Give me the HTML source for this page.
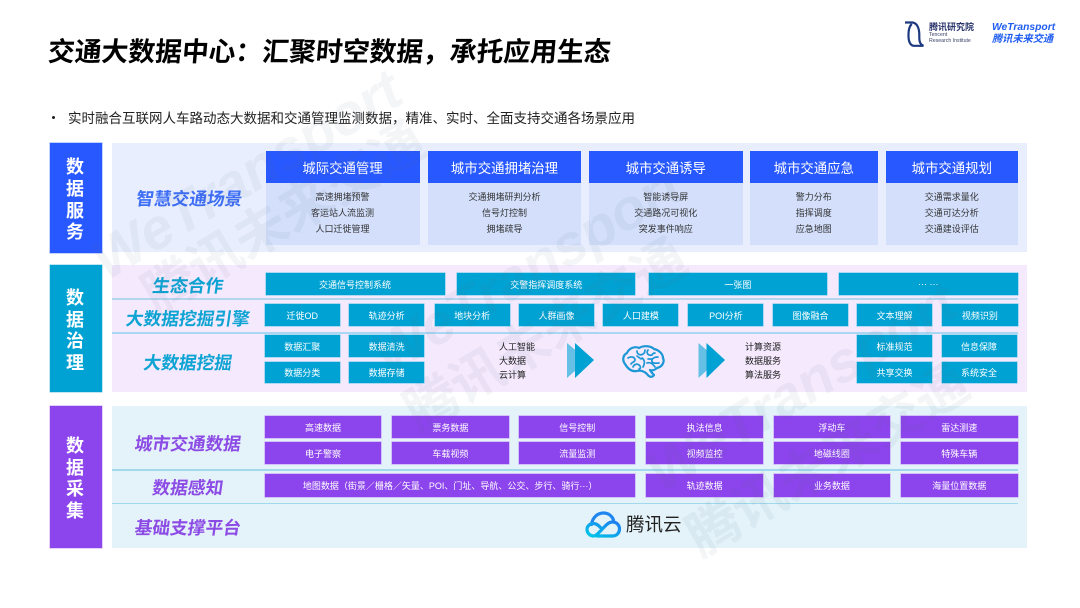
<!DOCTYPE html>
<html lang="zh"><head><meta charset="utf-8"><style>
html,body{margin:0;padding:0;background:#fff}
#p{position:relative;width:1080px;height:608px;overflow:hidden;background:#fff;font-family:"Liberation Sans","Noto Sans CJK SC",sans-serif}
#p div{position:absolute;box-sizing:border-box}
.c{display:flex;align-items:center;justify-content:center;white-space:nowrap;text-align:center}
.l{display:flex;align-items:center;justify-content:center;white-space:nowrap;font-weight:700;font-size:17.700px;transform:skewX(-8deg);height:24px}
.s{width:52px;color:#fff;font-weight:700;font-size:18px;height:24px;left:49px;display:flex;justify-content:center;align-items:center}
.b{color:#fff;font-size:9px}
.t{background:#00a2d3;box-shadow:0 0 0 .6px #7fcdea}
.v{background:#8c44ec;box-shadow:0 0 0 .6px #c9a2f6}
.h{background:#2858ff;color:#fff;font-size:13.400px;top:151px;height:32px}
.k{background:#d3dffb;top:183px;height:62px;color:#333;font-size:9px;line-height:16px;text-align:center;padding-top:5.500px}
.x{font-size:9px;line-height:14px;color:#222;white-space:nowrap}
.w{white-space:nowrap;color:rgba(95,100,135,.065);font-weight:700;height:60px;line-height:60px;transform:rotate(-31deg);transform-origin:0 50%}
.we{font-size:57px;font-style:italic}
.cn{font-size:53px}
</style></head><body><div id="p">

<div style="left:48px;top:36px;font-size:26.800px;line-height:32px;font-weight:700;color:#000;white-space:nowrap;transform:skewX(-5deg)">交通大数据中心&#xFF1A;汇聚时空数据&#xFF0C;承托应用生态</div>

<svg style="position:absolute;left:904px;top:21px" width="22" height="27" viewBox="0 0 22 27"><path d="M1 1.500H8.500C13 2 15.500 7 15.300 15C15.200 20 15.800 23.500 19.500 24.800H9.500C5.500 24 4.300 19 4.500 13C4.600 9 5.500 5 7.800 3" fill="none" stroke="#1d3a80" stroke-width="2.200"/></svg>
<div style="left:929px;top:21px;font-size:9px;line-height:12px;font-weight:700;color:#27336a;white-space:nowrap">腾讯研究院</div>
<div style="left:929px;top:33px;font-size:5.200px;line-height:5.600px;color:#3a4468;white-space:nowrap">Tencent<br>Research Institute</div>
<div style="left:992px;top:21px;font-size:10.300px;line-height:13px;font-weight:700;font-style:italic;color:#1f5cf0;white-space:nowrap">WeTransport</div>
<div style="left:992px;top:33px;font-size:10.200px;line-height:13px;font-weight:700;font-style:italic;color:#1f5cf0;white-space:nowrap">腾讯未来交通</div>

<div style="left:52px;top:116px;width:3px;height:3px;border-radius:50%;background:#222"></div>
<div style="left:68px;top:109px;font-size:13.500px;line-height:19px;color:#222;white-space:nowrap">实时融合互联网人车路动态大数据和交通管理监测数据&#xFF0C;精准、实时、全面支持交通各场景应用</div>

<!-- 数据服务 -->
<div style="left:49.500px;top:142.500px;width:52px;height:110px;background:#2858ff;box-shadow:0 0 0 .7px #a9bdfd"></div>
<div class="s" style="top:154px">数</div><div class="s" style="top:176px">据</div><div class="s" style="top:198px">服</div><div class="s" style="top:219px">务</div>
<div style="left:112px;top:143px;width:915px;height:109px;background:#e8eefd"></div>
<div class="l" style="left:112px;width:155px;top:186px;color:#3d6ef5">智慧交通场景</div>

<div class="k" style="left:265.500px;width:154px">高速拥堵预警<br>客运站人流监测<br>人口迁徙管理</div>
<div class="h c" style="left:265.500px;width:154px">城际交通管理</div>
<div class="k" style="left:427.700px;width:153.600px">交通拥堵研判分析<br>信号灯控制<br>拥堵疏导</div>
<div class="h c" style="left:427.700px;width:153.600px">城市交通拥堵治理</div>
<div class="k" style="left:589px;width:153.500px">智能诱导屏<br>交通路况可视化<br>突发事件响应</div>
<div class="h c" style="left:589px;width:153.500px">城市交通诱导</div>
<div class="k" style="left:750px;width:127.500px">警力分布<br>指挥调度<br>应急地图</div>
<div class="h c" style="left:750px;width:127.500px">城市交通应急</div>
<div class="k" style="left:886px;width:131.600px">交通需求量化<br>交通可达分析<br>交通建设评估</div>
<div class="h c" style="left:886px;width:131.600px">城市交通规划</div>

<!-- 数据治理 -->
<div style="left:49.500px;top:265px;width:52px;height:127px;background:#00a2d3;box-shadow:0 0 0 .7px #a5dcf0"></div>
<div class="s" style="top:285px">数</div><div class="s" style="top:307px">据</div><div class="s" style="top:328px">治</div><div class="s" style="top:350px">理</div>
<div style="left:112px;top:265px;width:915px;height:127px;background:#f5e9fd"></div>
<div style="left:112px;top:298px;width:905.500px;height:1.500px;background:#b3d6f0"></div>
<div style="left:112px;top:332px;width:905.500px;height:1.500px;background:#a9d6f0"></div>
<div class="l" style="left:112px;width:152px;top:273px;color:#0da3d3">生态合作</div>
<div class="l" style="left:112px;width:152px;top:306px;color:#0da3d3">大数据挖掘引擎</div>
<div class="l" style="left:112px;width:152px;top:350px;color:#0da3d3">大数据挖掘</div>

<div class="c b t" style="left:265.500px;top:273px;width:179px;height:22px">交通信号控制系统</div>
<div class="c b t" style="left:457px;top:273px;width:178.400px;height:22px">交警指挥调度系统</div>
<div class="c b t" style="left:649px;top:273px;width:177.800px;height:22px">一张图</div>
<div class="c b t" style="left:839px;top:273px;width:178.600px;height:22px">··· ···</div>

<div class="c b t" style="left:264.800px;top:304px;width:75px;height:22px">迁徙OD</div>
<div class="c b t" style="left:349.200px;top:304px;width:75px;height:22px">轨迹分析</div>
<div class="c b t" style="left:434.600px;top:304px;width:75px;height:22px">地块分析</div>
<div class="c b t" style="left:519px;top:304px;width:75px;height:22px">人群画像</div>
<div class="c b t" style="left:603.400px;top:304px;width:75px;height:22px">人口建模</div>
<div class="c b t" style="left:688.400px;top:304px;width:75px;height:22px">POI分析</div>
<div class="c b t" style="left:773px;top:304px;width:75px;height:22px">图像融合</div>
<div class="c b t" style="left:856.800px;top:304px;width:75.400px;height:22px">文本理解</div>
<div class="c b t" style="left:942.200px;top:304px;width:75.400px;height:22px">视频识别</div>

<div class="c b t" style="left:264.800px;top:335.300px;width:75px;height:21.700px">数据汇聚</div>
<div class="c b t" style="left:349.200px;top:335.300px;width:75px;height:21.700px">数据清洗</div>
<div class="c b t" style="left:264.800px;top:361.700px;width:75px;height:21.700px">数据分类</div>
<div class="c b t" style="left:349.200px;top:361.700px;width:75px;height:21.700px">数据存储</div>
<div class="c b t" style="left:856.800px;top:335.300px;width:75.400px;height:21.700px">标准规范</div>
<div class="c b t" style="left:941.500px;top:335.300px;width:75.100px;height:21.700px">信息保障</div>
<div class="c b t" style="left:856.800px;top:361.700px;width:75.400px;height:21.700px">共享交换</div>
<div class="c b t" style="left:941.500px;top:361.700px;width:75.100px;height:21.700px">系统安全</div>

<div class="x" style="left:499px;top:339.500px">人工智能<br>大数据<br>云计算</div>
<div class="x" style="left:745px;top:339.500px">计算资源<br>数据服务<br>算法服务</div>

<svg style="position:absolute;left:560px;top:335px" width="180" height="50" viewBox="0 0 180 50">
<path d="M7 8L27 25L7 43Z" fill="#66bfe4"/><path d="M15 8L34 25L15 43Z" fill="#00a2d3"/>
<path d="M138.500 8L158 25L138.500 43Z" fill="#66bfe4"/><path d="M146.500 8L165 25L146.500 43Z" fill="#00a2d3"/>
<g fill="none" stroke="#1c97d6" stroke-linecap="round" stroke-linejoin="round">
<path stroke-width="2.200" d="M65 29C62 25 63 20 67 18C69 13 75 11 79 13C84 10 91 11 94 14C99 15 103 19 103 23C105 27 102 32 97 33C95 35 92 36 90 35C91 37 93 39 94 40C92 43 89 42 87 39C84 36 80 35 77 36C72 37 68 34 65 29Z"/>
<path stroke-width="1.700" d="M68 23C71 21 75 22 75 25C75 27 72 27 71 29M77 16C77 19 80 21 83 19C85 18 85 16 85 15M88 15C86 18 88 21 92 20C93 18 94 18 95 18M98 22C94 22 91 24 92 27C94 29 97 28 99 28M73 32C74 29 78 28 80 31C81 33 80 34 79 34M82 23C85 25 85 29 83 32M87 28C90 27 93 29 95 32M77 21L81 24M88 24L92 24"/>
</g></svg>

<!-- 数据采集 -->
<div style="left:49.500px;top:405.700px;width:52px;height:142.300px;background:#8c44ec;box-shadow:0 0 0 .7px #d7bdf9"></div>
<div class="s" style="top:433px">数</div><div class="s" style="top:455px">据</div><div class="s" style="top:476px">采</div><div class="s" style="top:498px">集</div>
<div style="left:112px;top:406px;width:915px;height:142px;background:#e3f3f9"></div>
<div style="left:112px;top:469px;width:905.500px;height:1.500px;background:#9fd9eb"></div>
<div style="left:112px;top:502.500px;width:905.500px;height:1.500px;background:#9fd9eb"></div>
<div class="l" style="left:112px;width:152px;top:431px;color:#8d4be6">城市交通数据</div>
<div class="l" style="left:112px;width:152px;top:475px;color:#8d4be6">数据感知</div>
<div class="l" style="left:112px;width:152px;top:515px;color:#8d4be6">基础支撑平台</div>

<div class="c b v" style="left:264.800px;top:416px;width:116.400px;height:22.300px">高速数据</div>
<div class="c b v" style="left:392.200px;top:416px;width:116.400px;height:22.300px">票务数据</div>
<div class="c b v" style="left:519px;top:416px;width:116.400px;height:22.300px">信号控制</div>
<div class="c b v" style="left:646.400px;top:416px;width:116.400px;height:22.300px">执法信息</div>
<div class="c b v" style="left:773.800px;top:416px;width:116.100px;height:22.300px">浮动车</div>
<div class="c b v" style="left:900.900px;top:416px;width:116.700px;height:22.300px">雷达测速</div>
<div class="c b v" style="left:264.800px;top:442.300px;width:116.400px;height:22px">电子警察</div>
<div class="c b v" style="left:392.200px;top:442.300px;width:116.400px;height:22px">车载视频</div>
<div class="c b v" style="left:519px;top:442.300px;width:116.400px;height:22px">流量监测</div>
<div class="c b v" style="left:646.400px;top:442.300px;width:116.400px;height:22px">视频监控</div>
<div class="c b v" style="left:773.800px;top:442.300px;width:116.100px;height:22px">地磁线圈</div>
<div class="c b v" style="left:900.900px;top:442.300px;width:116.700px;height:22px">特殊车辆</div>
<div class="c b v" style="left:264.800px;top:474.300px;width:370.600px;height:22.400px">地图数据&#xFF08;街景&#xFF0F;栅格&#xFF0F;矢量、POI、门址、导航、公交、步行、骑行···&#xFF09;</div>
<div class="c b v" style="left:646.400px;top:474.300px;width:116.400px;height:22.400px">轨迹数据</div>
<div class="c b v" style="left:773.800px;top:474.300px;width:116.100px;height:22.400px">业务数据</div>
<div class="c b v" style="left:900.900px;top:474.300px;width:116.700px;height:22.400px">海量位置数据</div>

<svg style="position:absolute;left:585px;top:511px" width="37" height="28" viewBox="0 0 37 28">
<defs><linearGradient id="g" x1="0" y1="1" x2="1" y2="0"><stop offset="0" stop-color="#00c8e8"/><stop offset="1" stop-color="#1f7bf0"/></linearGradient></defs>
<path d="M6.500 13.500C7.500 6 13 2 18.500 2C23.500 2 27 5 28.500 9" fill="none" stroke="#1f86f0" stroke-width="3.200" stroke-linecap="round"/>
<path d="M12 25H27.500C32 25 34.500 21.500 34.500 18C34.500 14 31.500 11 27.500 11C22 11 18 18 14 21.500C12 23.500 10.500 25 8.500 25C5 25 2 22 2 18.500C2 15 5 12.500 8.500 12.500C12 12.500 14 15 16 17" fill="none" stroke="url(#g)" stroke-width="3.200" stroke-linecap="round"/>
</svg>
<div style="left:626px;top:513px;font-size:18.500px;line-height:24px;color:#222;white-space:nowrap">腾讯云</div>

<!-- 水印 -->
<div class="w we" style="left:97px;top:235px">WeTransport</div>
<div class="w cn" style="left:148px;top:271px">腾讯未来交通</div>
<div class="w we" style="left:378px;top:330px">WeTransport</div>
<div class="w cn" style="left:410px;top:388px">腾讯未来交通</div>
<div class="w we" style="left:652px;top:447px">WeTransport</div>
<div class="w cn" style="left:692px;top:513px">腾讯未来交通</div>
</div></body></html>
